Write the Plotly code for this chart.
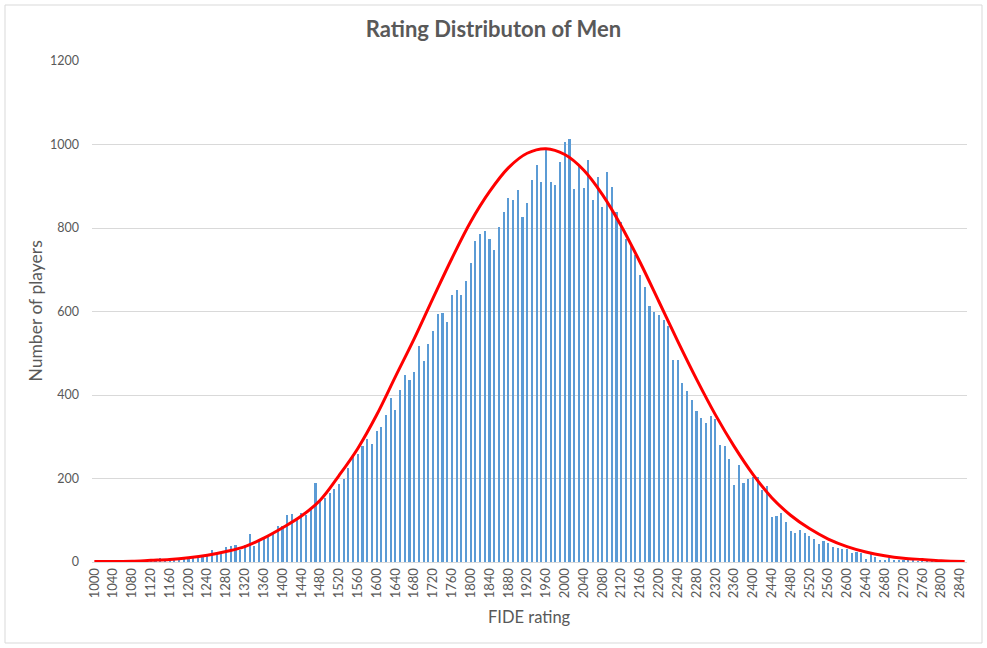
import plotly.graph_objects as go

# rating bins (category axis, one bar every 10 points)
ratings = list(range(1000, 2860, 10))

# number of players per bin
players = [
    0, 0, 1, 0, 1, 1, 1, 2, 2, 2,              # 1000-1090
    3, 3, 4, 4, 10, 5, 6, 6, 7, 12,            # 1100-1190
    8, 10, 10, 11, 16, 29, 24, 24, 36, 39,     # 1200-1290
    41, 29, 41, 68, 38, 52, 60, 62, 72, 86,    # 1300-1390
    86, 113, 115, 101, 118, 113, 125, 190, 149, 154,   # 1400-1490
    166, 175, 187, 199, 226, 254, 259, 278, 295, 283,  # 1500-1590
    314, 324, 353, 394, 364, 412, 448, 436, 455, 518,  # 1600-1690
    482, 522, 554, 594, 597, 575, 640, 652, 640, 674,  # 1700-1790
    717, 770, 786, 794, 774, 748, 803, 839, 873, 866,  # 1800-1890
    890, 827, 861, 916, 952, 909, 988, 911, 904, 957,  # 1900-1990
    1005, 1012, 894, 952, 897, 964, 868, 921, 851, 935,  # 2000-2090
    899, 839, 815, 774, 760, 736, 688, 659, 614, 599,  # 2100-2190
    592, 580, 566, 484, 484, 429, 410, 389, 362, 346,  # 2200-2290
    334, 350, 343, 281, 278, 247, 185, 233, 190, 199,  # 2300-2390
    204, 204, 173, 182, 108, 110, 118, 96, 74, 70,     # 2400-2490
    77, 70, 63, 54, 44, 51, 46, 37, 34, 30,            # 2500-2590
    30, 22, 25, 22, 7, 18, 13, 6, 6, 10,               # 2600-2690
    3, 6, 3, 4, 4, 2, 2, 1, 1, 1,                      # 2700-2790
    1, 0, 1, 0, 0, 0,                                  # 2800-2850
]

# red fitted curve, read at a few points
curve_x = [1000, 1040, 1080, 1120, 1160, 1200, 1240, 1280, 1320, 1360,
           1400, 1440, 1480, 1520, 1560, 1600, 1640, 1680, 1720, 1760,
           1800, 1840, 1880, 1920, 1960, 2000, 2040, 2080, 2120, 2160,
           2200, 2240, 2280, 2320, 2360, 2400, 2440, 2480, 2520, 2560,
           2600, 2640, 2680, 2720, 2760, 2800, 2850]
curve_y = [1, 1, 2, 4, 6, 10, 16, 25, 37, 57,
           82, 110, 148, 207, 272, 352, 444, 535, 632, 727,
           815, 887, 944, 979, 990, 976, 939, 880, 805, 718,
           624, 529, 438, 353, 277, 210, 154, 112, 80, 55,
           37, 24, 15, 9, 6, 3, 1]

tick_labels = list(range(1000, 2841, 40))

GRAY = "#595959"
FONT = "Lato"

fig = go.Figure()
fig.add_trace(go.Bar(
    x=ratings, y=players,
    width=4.5,
    marker=dict(color="#5B9BD5", line=dict(width=0)),
    hoverinfo="x+y",
))
fig.add_trace(go.Scatter(
    x=curve_x, y=curve_y,
    mode="lines",
    line=dict(color="#FF0000", width=3, shape="spline", smoothing=1.0),
    hoverinfo="skip",
))

fig.update_layout(
    width=987, height=648,
    margin=dict(l=92, r=20, t=61, b=86),
    paper_bgcolor="white",
    plot_bgcolor="white",
    showlegend=False,
    font=dict(family=FONT, color=GRAY, size=12),
    title=dict(
        text="<b>Rating Distributon of Men</b>",
        x=493.5 / 987, xref="container", xanchor="center",
        y=1 - 29 / 648, yref="container", yanchor="middle",
        font=dict(family=FONT, size=22, color=GRAY),
    ),
    bargap=0,
)

fig.update_xaxes(
    range=[995, 2855],
    tickmode="array",
    tickvals=tick_labels,
    ticktext=[str(t) for t in tick_labels],
    tickangle=-90,
    tickfont=dict(size=13, color=GRAY),
    showgrid=False,
    showline=True, linecolor="#D9D9D9", linewidth=1,
    ticks="",
    zeroline=False,
)
fig.update_yaxes(
    range=[0, 1200],
    dtick=200,
    tickfont=dict(size=12.5, color=GRAY),
    showgrid=True, gridcolor="#D9D9D9", gridwidth=1,
    zeroline=False,
    showline=False,
    ticks="",
    ticklabelstandoff=12,
)

# axis titles placed as annotations
fig.add_annotation(
    text="Number of players", textangle=-90,
    xref="paper", yref="paper",
    x=(35 - 92) / 875, y=0.5,
    xanchor="center", yanchor="middle",
    showarrow=False, font=dict(family=FONT, size=17.5, color=GRAY),
)
fig.add_annotation(
    text="FIDE rating",
    xref="paper", yref="paper",
    x=0.5, y=(562 - 617) / 501,
    xanchor="center", yanchor="middle",
    showarrow=False, font=dict(family=FONT, size=16.5, color=GRAY),
)

# chart border
fig.add_shape(
    type="rect", xref="paper", yref="paper",
    x0=(5 - 92) / 875, x1=(982 - 92) / 875,
    y0=(562 - 643) / 501, y1=(562 - 5) / 501,
    line=dict(color="#D9D9D9", width=1),
    fillcolor="rgba(0,0,0,0)", layer="below",
)

# page has a default body margin; drop it so the figure sits at 0,0
fig.write_html(
    "out.html",
    config={"displayModeBar": False},
    post_script="document.body.style.margin='0';",
)
